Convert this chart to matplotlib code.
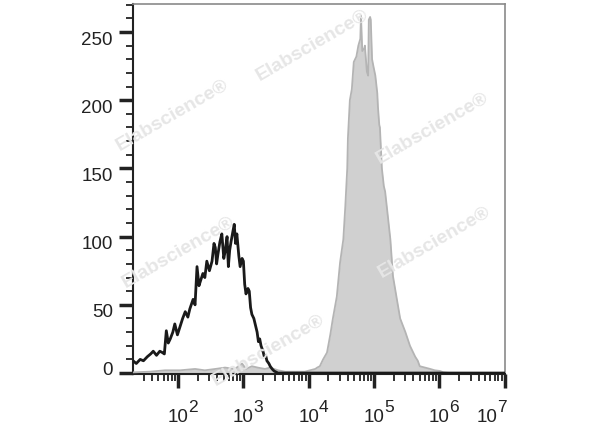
import numpy as np
import matplotlib
matplotlib.use("Agg")
import matplotlib.pyplot as plt
from matplotlib.ticker import FixedLocator, LogLocator, MultipleLocator, NullFormatter

plt.rcParams['font.family'] = ['Liberation Sans', 'DejaVu Sans']

# isotype control (black outline), x as log10 of fluorescence
ctrl_log = [1.31, 1.36, 1.42, 1.47, 1.53, 1.58, 1.62, 1.67, 1.72, 1.76, 1.79, 1.82,
            1.85, 1.88, 1.92, 1.95, 1.99, 2.03, 2.07, 2.11, 2.15, 2.18, 2.23, 2.26,
            2.29, 2.32, 2.34, 2.38, 2.41, 2.44, 2.48, 2.52, 2.55, 2.57, 2.59, 2.61,
            2.64, 2.67, 2.70, 2.72, 2.75, 2.77, 2.79, 2.81, 2.84, 2.86, 2.88, 2.90,
            2.93, 2.95, 2.98, 3.00, 3.02, 3.04, 3.07, 3.09, 3.11, 3.13, 3.16, 3.18,
            3.21, 3.23, 3.25, 3.27, 3.30, 3.32, 3.34, 3.36, 3.39, 3.41, 3.44, 3.47,
            3.53, 4.50, 5.50, 7.00]
ctrl_count = [9, 7, 10, 9, 12, 14, 16, 13, 16, 15, 14, 31,
              22, 25, 30, 36, 28, 34, 40, 45, 41, 47, 54, 50,
              78, 64, 67, 73, 70, 82, 75, 82, 95, 92, 80, 87,
              96, 102, 84, 89, 100, 78, 90, 96, 104, 109, 95, 102,
              86, 78, 84, 82, 65, 58, 62, 60, 48, 43, 40, 36,
              30, 23, 25, 20, 16, 12, 13, 9, 7, 5, 3, 1.5,
              0, 0, 0, 0]

# stained sample (grey filled)
stain_log = [1.31, 1.57, 1.80, 2.03, 2.26, 2.41, 2.57, 2.72, 2.87, 2.98, 3.04, 3.13,
             3.22, 3.33, 3.41, 3.53, 3.64, 3.79, 3.94, 4.02, 4.10, 4.13, 4.17, 4.22,
             4.28, 4.33, 4.37, 4.43, 4.48, 4.53, 4.56, 4.59, 4.60, 4.63, 4.66, 4.69,
             4.73, 4.76, 4.79, 4.80, 4.82, 4.85, 4.86, 4.89, 4.91, 4.92, 4.94, 4.95,
             4.97, 4.99, 5.02, 5.05, 5.06, 5.08, 5.09, 5.12, 5.15, 5.17, 5.20, 5.25,
             5.29, 5.35, 5.40, 5.48, 5.55, 5.63, 5.67, 5.70, 5.78, 5.86, 5.93, 6.01,
             6.06, 6.16, 7.00]
stain_count = [0.5, 1, 2, 2, 3, 2, 3, 4, 3, 7, 3, 5,
               4, 3, 4, 2, 1, 1, 1, 2, 3, 4, 5, 10,
               15, 28, 40, 56, 81, 98, 122, 150, 172, 200, 208, 228,
               232, 240, 245, 262, 236, 238, 240, 221, 218, 259, 261, 259,
               230, 225, 218, 205, 195, 182, 180, 150, 137, 133, 120, 98,
               71, 54, 40, 30, 20, 12, 9, 5, 4, 3, 2, 1.5,
               0.5, 0, 0]

decades = [2, 3, 4, 5, 6, 7]
y_major = [0, 50, 100, 150, 200, 250]

watermarks = [(312, 45), (172, 115), (432, 128), (178, 252), (434, 242), (268, 350)]

fig = plt.figure(figsize=(6.0, 4.27), dpi=100)
ax = fig.add_axes([133 / 600, 52 / 427, 372 / 600, 370 / 427])

for px, py in watermarks:
    fig.text(px / 600, 1 - py / 427, "Elabscience\u00ae", rotation=30, fontsize=14,
             fontweight='bold', color='#e6e6e6', ha='center', va='center', zorder=0)
ax.patch.set_alpha(0)

xs = 10 ** np.array(stain_log)
ax.fill_between(xs, stain_count, 0, color='#d0d0d0', lw=0, zorder=2)
ax.plot(xs, stain_count, color='#b4b4b4', lw=1.3, zorder=3)
ax.plot(10 ** np.array(ctrl_log), ctrl_count, color='#1a1a1a', lw=2.0, zorder=4)

ax.set_xscale('log')
ax.set_xlim(10 ** 1.31, 10 ** 7.005)
ax.set_ylim(-0.7, 270.5)

# x ticks: labels drawn by hand, exponent nearly full size as in the original
ax.xaxis.set_major_locator(FixedLocator([10.0 ** d for d in decades]))
ax.xaxis.set_major_formatter(NullFormatter())
ax.xaxis.set_minor_locator(LogLocator(base=10, subs=np.arange(2, 10), numticks=20))
ax.xaxis.set_minor_formatter(NullFormatter())
for d in decades:
    shift = -12.5 if d == 7 else 0
    ax.annotate("10", xy=(10.0 ** d, 0), xycoords=('data', 'axes fraction'),
                xytext=(shift, -34), textcoords='offset points',
                ha='center', va='baseline', fontsize=13.5, color='#222222')
    ax.annotate(str(d), xy=(10.0 ** d, 0), xycoords=('data', 'axes fraction'),
                xytext=(shift + 7.2, -26.5), textcoords='offset points',
                ha='left', va='baseline', fontsize=12.5, color='#222222')

# y ticks: labels sit just under their tick, "0" sits on it
ax.yaxis.set_major_locator(FixedLocator(y_major))
ax.yaxis.set_major_formatter(NullFormatter())
ax.yaxis.set_minor_locator(MultipleLocator(10))
for v in y_major:
    ax.annotate(str(v), xy=(0, v), xycoords=('axes fraction', 'data'),
                xytext=(-14.5, -0.5 if v == 0 else 1), textcoords='offset points',
                ha='right', va='baseline' if v == 0 else 'top',
                fontsize=13.5, color='#222222')

ax.tick_params(axis='both', which='major', length=10, width=2.5, color='#222222')
ax.tick_params(axis='both', which='minor', length=5, width=1.3, color='#222222')

for side in ['top', 'right']:
    ax.spines[side].set_color('#8a8a8a')
    ax.spines[side].set_linewidth(1.2)
for side in ['left', 'bottom']:
    ax.spines[side].set_color('#222222')
    ax.spines[side].set_linewidth(1.5)

fig.savefig("out.png", dpi=100)
